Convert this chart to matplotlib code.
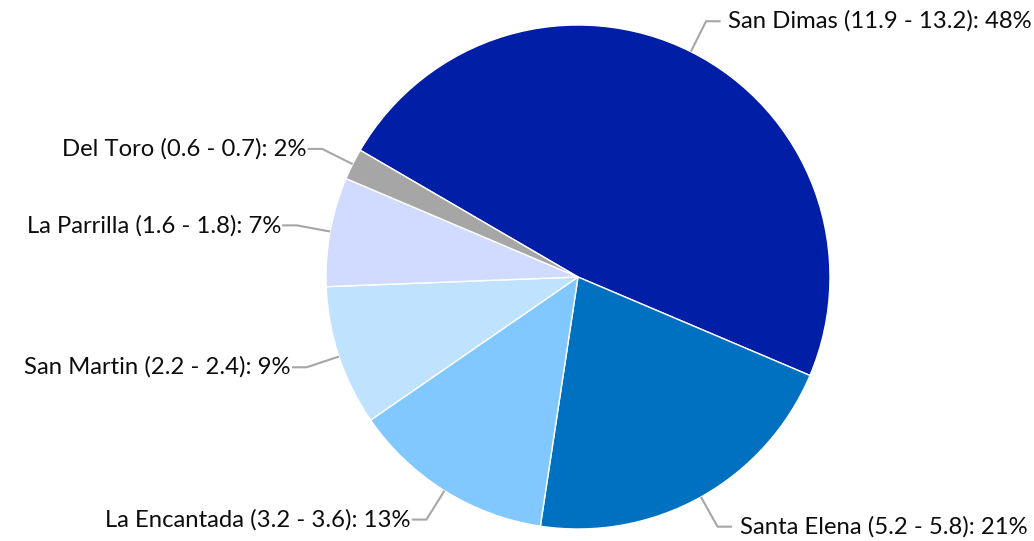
import numpy as np
import matplotlib
matplotlib.use("Agg")
import matplotlib.pyplot as plt

# slice data, clockwise from the Del Toro / San Dimas boundary
names = ["San Dimas", "Santa Elena", "La Encantada", "San Martin", "La Parrilla", "Del Toro"]
ranges = ["11.9 - 13.2", "5.2 - 5.8", "3.2 - 3.6", "2.2 - 2.4", "1.6 - 1.8", "0.6 - 0.7"]
shares = [48, 21, 13, 9, 7, 2]
colors = ["#001EA6", "#0070C0", "#80C8FF", "#BFE2FF", "#D1DAFF", "#A6A6A6"]

START_ANGLE = 149.8
W, H, DPI = 1034, 541, 100
CX, CY, R = 578, 277, 252  # pie centre / radius in pixels

plt.rcParams['font.family'] = ['Lato', 'DejaVu Sans']

fig = plt.figure(figsize=(W / DPI, H / DPI), dpi=DPI, facecolor='w')
ax = fig.add_axes([0, 0, 1, 1])

wedges, _ = ax.pie(shares, colors=colors, startangle=START_ANGLE, counterclock=False,
                   radius=1.0, wedgeprops=dict(edgecolor='white', linewidth=1.0))

ax.set_xlim(-CX / R, (W - CX) / R)
ax.set_ylim(-(H - CY) / R, CY / R)
ax.set_aspect('equal')
ax.axis('off')

# leader lines + labels
for w, name, rng, pct in zip(wedges, names, ranges, shares):
  mid = np.deg2rad((w.theta1 + w.theta2) / 2)
  x0, y0 = np.cos(mid), np.sin(mid)
  xe, ye = 1.135 * np.cos(mid), 1.135 * np.sin(mid)
  side = 1 if x0 > 0 else -1
  xh = xe + side * 0.058
  ax.plot([x0, xe, xh], [y0, ye, ye], color='#A6A6A6', linewidth=1.5,
          solid_capstyle='butt', clip_on=False)
  gap = 0.03 if side > 0 else 0.004
  ax.text(xh + side * gap, ye, f"{name} ({rng}): {pct}%",
          ha='left' if side > 0 else 'right', va='center',
          fontsize=17.2, color='#0D0D0D')

fig.savefig("out.png", dpi=DPI, facecolor='w')
plt.close()
